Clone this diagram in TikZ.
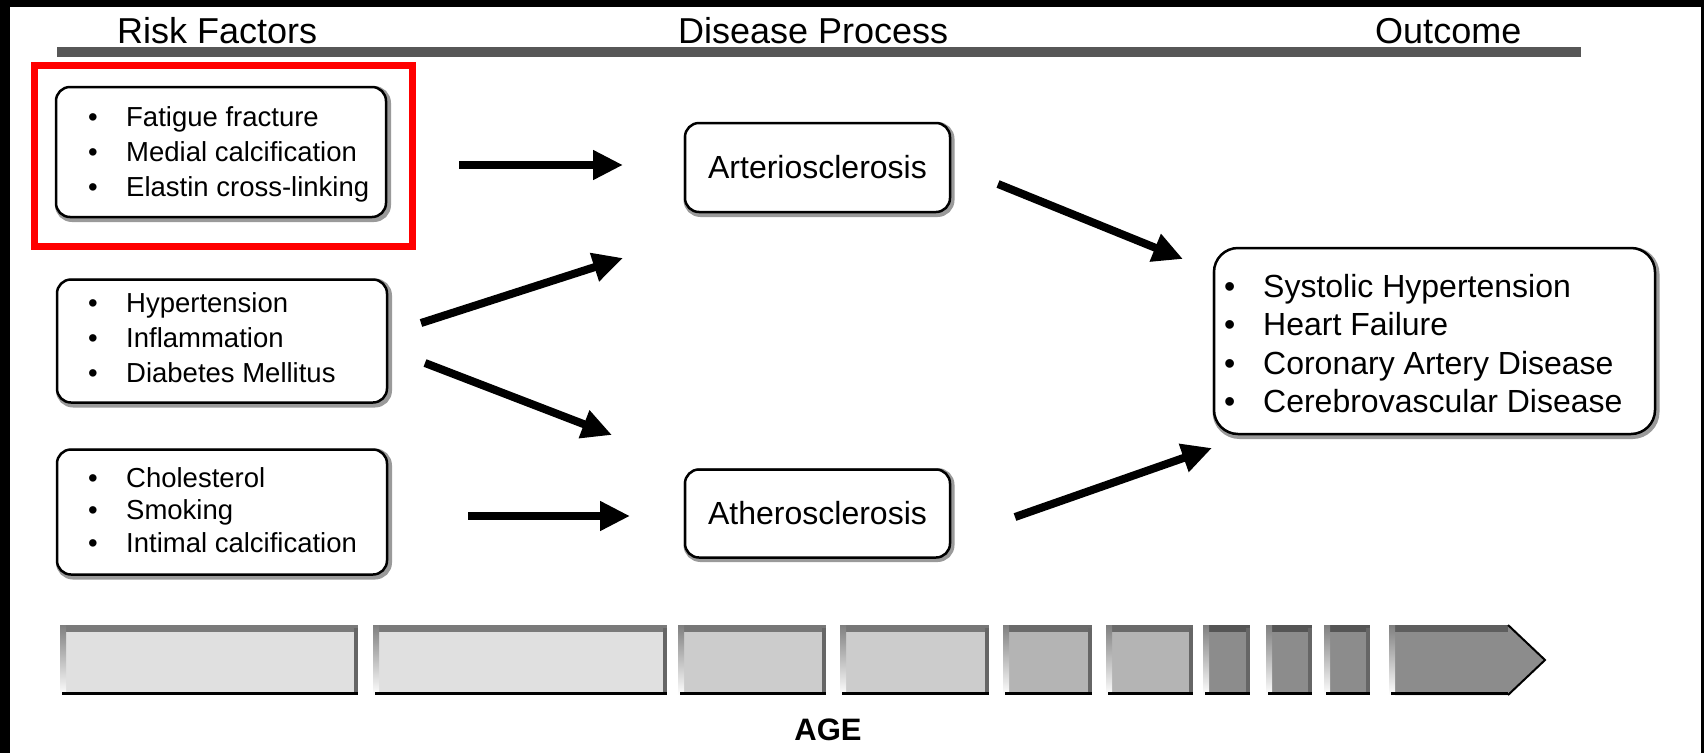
\documentclass[tikz,border=0pt]{standalone}
\usepackage{fontspec}
\setmainfont{Liberation Sans}
\usetikzlibrary{arrows.meta}
\definecolor{hdrline}{HTML}{575757}
\definecolor{segA}{HTML}{E0E0E0}
\definecolor{segB}{HTML}{CCCCCC}
\definecolor{segC}{HTML}{B4B4B4}
\definecolor{segD}{HTML}{8C8C8C}
\definecolor{shade}{HTML}{9A9A9A}
\begin{document}
\begin{tikzpicture}[x=1pt,y=-1pt,
  header/.style={font=\fontsize{36}{43}\selectfont, inner sep=0, anchor=base west},
  itemtext/.style={font=\fontsize{27.5}{35}\selectfont, inner sep=0, anchor=base west},
  outtext/.style={font=\fontsize{32}{38.5}\selectfont, inner sep=0, anchor=base west},
  box/.style={draw=black, line width=2.5pt, rounded corners=14pt, inner sep=0, fill=white},
  boxshadow/.style={draw=shade, line width=6pt, rounded corners=14pt},
  diseasetext/.style={font=\fontsize{32}{38}\selectfont},
  arr/.style={line width=8pt, -{Triangle[length=30pt,width=28pt]}},
]
\useasboundingbox (0,0) rectangle (1704,753);
\fill[white] (0,0) rectangle (1704,753);
% black frame
\fill[black] (0,0) rectangle (1704,7);
\fill[black] (0,0) rectangle (10,753);
\fill[black] (1701,0) rectangle (1704,753);

% headers
\node[header] (hrisk) at (117,43) {Risk Factors};
\node[header] (hproc) at (678,43) {Disease Process};
\node[header] (hout) at (1375,43) {Outcome};
\fill[hdrline] (57,47) rectangle (1581,57);

% red highlight frame
\draw[red, line width=7pt] (34.5,65.5) rectangle (412.5,246.5);

% risk factor boxes
\draw[boxshadow] (58,89) rectangle ++(330,130);
\node[box, minimum width=330pt, minimum height=130pt] (rf1) at (221,152) {};
\draw[boxshadow] (59,281.5) rectangle ++(330,123);
\node[box, minimum width=330pt, minimum height=123pt] (rf2) at (222,341) {};
\draw[boxshadow] (59,451.5) rectangle ++(330,125);
\node[box, minimum width=330pt, minimum height=125pt] (rf3) at (222,512) {};

\node[itemtext] (rf1t) at (88,126) {\begin{tabular}[t]{@{}p{38pt}@{}l@{}}
\textbullet & Fatigue fracture\\ \textbullet & Medial calcification\\ \textbullet & Elastin cross-linking\end{tabular}};
\node[itemtext] (rf2t) at (88,312) {\begin{tabular}[t]{@{}p{38pt}@{}l@{}}
\textbullet & Hypertension\\ \textbullet & Inflammation\\ \textbullet & Diabetes Mellitus\end{tabular}};
\node[itemtext, font=\fontsize{27.5}{32.5}\selectfont] (rf3t) at (88,487) {\begin{tabular}[t]{@{}p{38pt}@{}l@{}}
\textbullet & Cholesterol\\ \textbullet & Smoking\\ \textbullet & Intimal calcification\end{tabular}};

% disease process boxes
\draw[boxshadow] (686.5,125) rectangle ++(265,89);
\node[box, diseasetext, minimum width=265pt, minimum height=89pt] (arterio) at (817.5,167.5) {Arteriosclerosis};
\draw[boxshadow] (686.5,471) rectangle ++(265,88);
\node[box, diseasetext, minimum width=265pt, minimum height=88pt] (athero) at (817.5,513.5) {Atherosclerosis};

% outcome box
\draw[boxshadow, rounded corners=24pt] (1215.5,250) rectangle ++(441,186);
\node[box, rounded corners=24pt, minimum width=441pt, minimum height=186pt] (outbox) at (1434.5,341) {};
\node[outtext] (outt) at (1224,297) {\begin{tabular}[t]{@{}p{39pt}@{}l@{}}
\textbullet & Systolic Hypertension\\ \textbullet & Heart Failure\\ \textbullet & Coronary Artery Disease\\ \textbullet & Cerebrovascular Disease\end{tabular}};

% arrow ends
\coordinate (a1s) at (459,165);  \coordinate (a1e) at (623,165);
\coordinate (a2s) at (421,323);  \coordinate (a2e) at (623,258);
\coordinate (a3s) at (425,363);  \coordinate (a3e) at (612,435);
\coordinate (a4s) at (468,516);  \coordinate (a4e) at (630,516);
\coordinate (a5s) at (998,184);  \coordinate (a5e) at (1183,259);
\coordinate (a6s) at (1015,517); \coordinate (a6e) at (1212,448);
\draw[arr] (a1s) -- (a1e);
\draw[arr] (a2s) -- (a2e);
\draw[arr] (a3s) -- (a3e);
\draw[arr] (a4s) -- (a4e);
\draw[arr] (a5s) -- (a5e);
\draw[arr] (a6s) -- (a6e);

% age bar
\foreach \x/\X/\c/\t in {60/358/segA/7A7A7A, 373/667/segA/7A7A7A, 678/826/segB/777777, 840/989/segB/777777,
  1003/1092/segC/6A6A6A, 1106/1193/segC/6A6A6A, 1203/1250/segD/555555, 1266/1312/segD/555555, 1324/1370/segD/555555} {
  \definecolor{tb}{HTML}{\t}
  \fill[\c] (\x,625) rectangle (\X,695);
  \fill[tb] (\x,625) rectangle (\X,632);
  \fill[shade] (\x,625) rectangle (\x+6,695);
  \fill[black!60] (\X-4,628) rectangle (\X,692);
  \fill[black] (\x+2,692) rectangle (\X,695);
}
\fill[segD] (1389,625) -- (1508,625) -- (1545,660) -- (1508,695) -- (1389,695) -- cycle;
\fill[black!63] (1389,625) rectangle (1508,632);
\fill[shade] (1389,625) rectangle (1395,695);
\draw[black, line width=2pt] (1508,625) -- (1545,660) -- (1508,695);
\fill[black] (1391,692) rectangle (1508,695);

\node[font=\bfseries\fontsize{31}{36}\selectfont, inner sep=0, anchor=base] (age) at (828,740) {AGE};
\end{tikzpicture}
\end{document}
